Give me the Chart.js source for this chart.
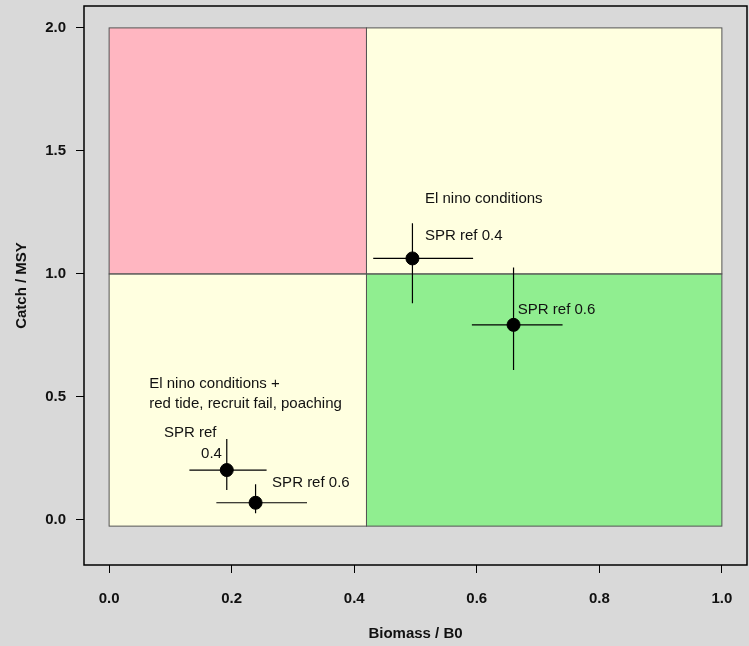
<!DOCTYPE html>
<html>
<head>
<meta charset="utf-8">
<script src="https://cdn.jsdelivr.net/npm/chart.js@4/dist/chart.umd.min.js"></script>
<style>
  body { margin: 0; background: #d9d9d9; }
  canvas { display: block; background: #d9d9d9; }
</style>
</head>
<body>
<canvas id="kobe" width="749" height="646"></canvas>
<script>
// point estimates and error bar ends
var biomass   = [0.495, 0.660, 0.192, 0.239];
var biomassLo = [0.431, 0.592, 0.131, 0.175];
var biomassHi = [0.594, 0.740, 0.257, 0.323];
var catchMsy  = [1.063, 0.793, 0.203, 0.070];
var catchLo   = [0.881, 0.610, 0.122, 0.027];
var catchHi   = [1.206, 1.026, 0.329, 0.145];

// quadrant edges
var zoneX = [0, 0.42, 1];
var zoneY = [-0.025, 1, 2];

var xTicks = [0, 0.2, 0.4, 0.6, 0.8, 1.0];
var yTicks = [0, 0.5, 1.0, 1.5, 2.0];

// text notes, anchored at left/middle in data units
var notes = [
  { text: "El nino conditions", x: 0.5155, y: 1.305 },
  { text: "SPR ref 0.4", x: 0.5155, y: 1.156 },
  { text: "SPR ref 0.6", x: 0.667, y: 0.854 },
  { text: "El nino conditions +", x: 0.0655, y: 0.553 },
  { text: "red tide, recruit fail, poaching", x: 0.0655, y: 0.470 },
  { text: "SPR ref", x: 0.0895, y: 0.355 },
  { text: "0.4", x: 0.150, y: 0.268 },
  { text: "SPR ref 0.6", x: 0.266, y: 0.150 }
];

var points = biomass.map(function (b, i) { return { x: b, y: catchMsy[i] }; });

var zonesPlugin = {
  id: "zones",
  beforeDatasetsDraw: function (chart) {
    var c = chart.ctx, xs = chart.scales.x, ys = chart.scales.y;
    var x0 = xs.getPixelForValue(zoneX[0]), x1 = xs.getPixelForValue(zoneX[1]), x2 = xs.getPixelForValue(zoneX[2]);
    var y0 = ys.getPixelForValue(zoneY[0]), y1 = ys.getPixelForValue(zoneY[1]), y2 = ys.getPixelForValue(zoneY[2]);
    c.save();
    c.fillStyle = "#ffb6c1"; c.fillRect(x0, y2, x1 - x0, y1 - y2);
    c.fillStyle = "#ffffe0"; c.fillRect(x1, y2, x2 - x1, y1 - y2);
    c.fillStyle = "#ffffe0"; c.fillRect(x0, y1, x1 - x0, y0 - y1);
    c.fillStyle = "#90ee90"; c.fillRect(x1, y1, x2 - x1, y0 - y1);
    c.strokeStyle = "#555";
    c.lineWidth = 1;
    c.strokeRect(x0, y2, x1 - x0, y1 - y2);
    c.strokeRect(x1, y2, x2 - x1, y1 - y2);
    c.strokeRect(x0, y1, x1 - x0, y0 - y1);
    c.strokeRect(x1, y1, x2 - x1, y0 - y1);

    // error bars
    c.strokeStyle = "#000";
    c.lineWidth = 1.2;
    for (var i = 0; i < biomass.length; i++) {
      var px = xs.getPixelForValue(biomass[i]), py = ys.getPixelForValue(catchMsy[i]);
      c.beginPath();
      c.moveTo(xs.getPixelForValue(biomassLo[i]), py);
      c.lineTo(xs.getPixelForValue(biomassHi[i]), py);
      c.moveTo(px, ys.getPixelForValue(catchLo[i]));
      c.lineTo(px, ys.getPixelForValue(catchHi[i]));
      c.stroke();
    }
    c.restore();
  },
  afterDatasetsDraw: function (chart) {
    var c = chart.ctx, xs = chart.scales.x, ys = chart.scales.y, a = chart.chartArea;
    c.save();
    c.fillStyle = "#111";
    c.font = "15px 'Liberation Sans', Arial, sans-serif";
    c.textAlign = "left";
    c.textBaseline = "middle";
    notes.forEach(function (n) {
      c.fillText(n.text, xs.getPixelForValue(n.x), ys.getPixelForValue(n.y));
    });
    c.strokeStyle = "#000";
    c.lineWidth = 1.5;
    c.strokeRect(a.left, a.top, a.right - a.left, a.bottom - a.top);
    c.restore();
  }
};

function noPad(s) {
  s.paddingTop = 0; s.paddingBottom = 0; s.paddingLeft = 0; s.paddingRight = 0;
}

var tickFont = { family: "'Liberation Sans', Arial, sans-serif", size: 15, weight: "bold" };

new Chart(document.getElementById("kobe").getContext("2d"), {
  type: "scatter",
  data: {
    datasets: [{
      data: points,
      backgroundColor: "#000",
      borderColor: "#000",
      pointRadius: 6.5,
      pointHoverRadius: 6.5
    }]
  },
  options: {
    responsive: false,
    animation: false,
    layout: { autoPadding: false, padding: { top: 6, right: 2, left: 0, bottom: 0 } },
    plugins: { legend: { display: false }, tooltip: { enabled: false } },
    scales: {
      x: {
        type: "linear",
        min: -0.041,
        max: 1.041,
        afterBuildTicks: function (s) { s.ticks = xTicks.map(function (v) { return { value: v }; }); },
        afterFit: function (s) { s.height = 81; noPad(s); },
        grid: { drawOnChartArea: false, drawTicks: true, tickLength: 8, color: "#000" },
        border: { display: false },
        ticks: {
          font: tickFont, color: "#111", padding: 17, maxRotation: 0,
          callback: function (v) { return v.toFixed(1); }
        },
        title: { display: true, text: "Biomass / B0", font: tickFont, color: "#111", padding: { top: 0, bottom: 3 } }
      },
      y: {
        type: "linear",
        min: -0.183,
        max: 2.089,
        afterBuildTicks: function (s) { s.ticks = yTicks.map(function (v) { return { value: v }; }); },
        afterFit: function (s) { s.width = 84; noPad(s); },
        grid: { drawOnChartArea: false, drawTicks: true, tickLength: 8, color: "#000" },
        border: { display: false },
        ticks: {
          font: tickFont, color: "#111", padding: 10,
          callback: function (v) { return v.toFixed(1); }
        },
        title: { display: true, text: "Catch / MSY", font: tickFont, color: "#111", padding: { top: 13, bottom: 0 } }
      }
    }
  },
  plugins: [zonesPlugin]
});
</script>
</body>
</html>
